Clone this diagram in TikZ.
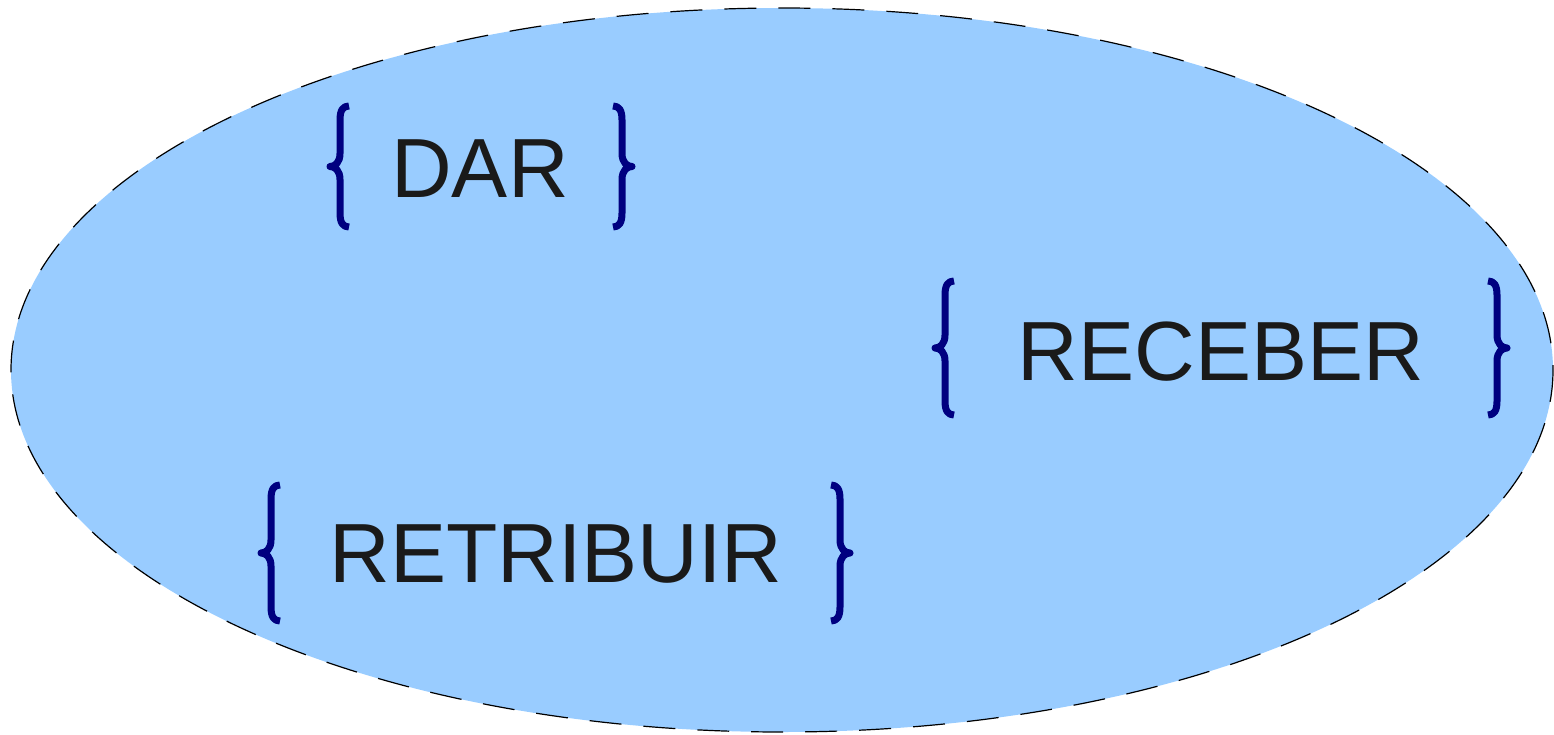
\documentclass[tikz,border=0pt]{standalone}
\usepackage{fontspec}
\setmainfont{Liberation Sans}
\definecolor{bgblue}{HTML}{99CCFF}
\definecolor{brnavy}{HTML}{000080}
\definecolor{txt}{HTML}{1A1A1A}
\tikzset{
  brc/.style={draw=brnavy,line width=7pt,line cap=butt,line join=round},
  word/.style={text=txt,font=\fontsize{84}{100}\selectfont,anchor=base,inner sep=0pt},
  cloud/.style={fill=bgblue,draw=black,line width=1.2pt,dash pattern=on 32pt off 22pt}
}
\newcommand\mybrace[4]{%
 \draw[brc] ({#1+#2*19},{#3}) .. controls ({#1+#2*13},{#3}) and ({#1+#2*10},{#3+4}) .. ({#1+#2*10},{#3+14})
   -- ({#1+#2*10},{(#3+#4)/2-13}) .. controls ({#1+#2*10},{(#3+#4)/2-4}) and ({#1+#2*5},{(#3+#4)/2}) .. ({#1},{(#3+#4)/2})
   .. controls ({#1+#2*5},{(#3+#4)/2}) and ({#1+#2*10},{(#3+#4)/2+4}) .. ({#1+#2*10},{(#3+#4)/2+13})
   -- ({#1+#2*10},{#4-14}) .. controls ({#1+#2*10},{#4-4}) and ({#1+#2*13},{#4}) .. ({#1+#2*19},{#4});}
\begin{document}
\begin{tikzpicture}[x=1pt,y=-1pt]
\useasboundingbox (0,0) rectangle (1554,734);
\draw[cloud] (782,370) ellipse [x radius=771, y radius=362];
\node[word] (dar) at (480,197) {DAR};
\node[word] (receber) at (1221,380) {RECEBER};
\node[word] (retribuir) at (556,582) {RETRIBUIR};
\mybrace{330}{1}{106}{227}
\mybrace{632}{-1}{106}{227}
\mybrace{935}{1}{281}{415}
\mybrace{1507}{-1}{281}{415}
\mybrace{261}{1}{485}{621}
\mybrace{850}{-1}{485}{621}
\end{tikzpicture}
\end{document}
